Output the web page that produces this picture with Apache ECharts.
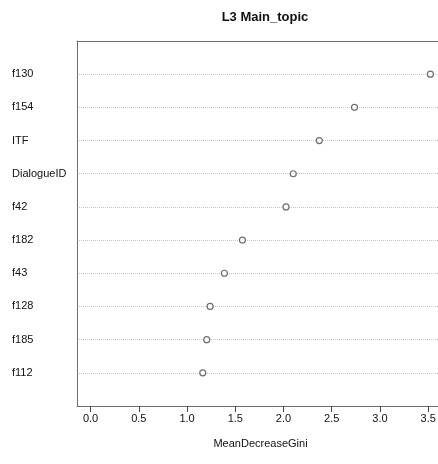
<!DOCTYPE html>
<html>
<head>
<meta charset="utf-8">
<title>L3 Main_topic</title>
<script src="https://cdn.jsdelivr.net/npm/echarts@6/dist/echarts.min.js"></script>
<style>
  html, body { margin: 0; padding: 0; background: #ffffff; }
  #chart { width: 438px; height: 464px; }
</style>
</head>
<body>
<div id="chart"></div>
<script>
// Variable importance, listed from bottom row to top row
const features = ['f112', 'f185', 'f128', 'f43', 'f182', 'f42', 'DialogueID', 'ITF', 'f154', 'f130'];
const giniValues = [1.163, 1.204, 1.239, 1.387, 1.574, 2.026, 2.101, 2.371, 2.736, 3.523];
const xTicks = [0, 0.5, 1.0, 1.5, 2.0, 2.5, 3.0, 3.5];

const FONT = '"Liberation Sans", Arial, Helvetica, sans-serif';

// Row positions 1..n on a 0..n+1 scale, like a classic dot chart
const rows = features.map((_, i) => i + 1);
const rowMax = features.length + 1;

// Horizontal extent: 0..max, padded 4% on both sides
const vMax = Math.max(...giniValues);
const xMin = -0.04 * vMax;
const xMax = 1.04 * vMax;

// Dotted guides only on the rows, not on the frame edges
const guideColors = [];
for (let i = 0; i <= rowMax; i++) {
  guideColors.push(i === 0 || i === rowMax ? 'rgba(0,0,0,0)' : '#c8c8c8');
}

const chart = echarts.init(document.getElementById('chart'), null, { renderer: 'canvas' });

chart.setOption({
  animation: false,
  backgroundColor: '#ffffff',
  title: {
    text: 'L3 Main_topic',
    left: 260,
    top: 6,
    textAlign: 'center',
    textStyle: { fontFamily: FONT, fontSize: 13, fontWeight: 'bold', color: '#111' }
  },
  // the plot frame runs past the right edge of the page
  grid: { left: 77, top: 41, width: 367, height: 365, outerBoundsMode: 'none', containLabel: false },
  xAxis: [
    {
      type: 'value',
      min: xMin,
      max: xMax,
      position: 'bottom',
      name: 'MeanDecreaseGini',
      nameLocation: 'middle',
      nameGap: 32,
      nameTextStyle: { fontFamily: FONT, fontSize: 11, color: '#111' },
      axisLine: { show: true, lineStyle: { color: '#6e6e6e', width: 1 } },
      axisTick: { show: true, length: 6, customValues: xTicks, lineStyle: { color: '#444', width: 1 } },
      axisLabel: {
        customValues: xTicks,
        margin: 7,
        fontFamily: FONT,
        fontSize: 11,
        color: '#111',
        formatter: v => v.toFixed(1)
      },
      splitLine: { show: false }
    },
    {
      type: 'value',
      min: xMin,
      max: xMax,
      position: 'top',
      axisLine: { show: true, lineStyle: { color: '#6e6e6e', width: 1 } },
      axisTick: { show: false },
      axisLabel: { show: false },
      splitLine: { show: false }
    }
  ],
  yAxis: {
    type: 'value',
    min: 0,
    max: rowMax,
    interval: 1,
    axisLine: { show: true, onZero: false, lineStyle: { color: '#6e6e6e', width: 1 } },
    axisTick: { show: false },
    axisLabel: {
      customValues: rows,
      align: 'left',
      margin: 65,
      fontFamily: FONT,
      fontSize: 11,
      color: '#111',
      formatter: v => features[v - 1]
    },
    splitLine: { show: true, lineStyle: { type: 'dotted', color: guideColors, width: 1 } }
  },
  series: [
    {
      type: 'scatter',
      xAxisIndex: 0,
      symbol: 'circle',
      symbolSize: 6,
      itemStyle: { color: '#ffffff', borderColor: '#4a4a4a', borderWidth: 1.2 },
      data: giniValues.map((v, i) => [v, rows[i]])
    }
  ]
});
</script>
</body>
</html>
